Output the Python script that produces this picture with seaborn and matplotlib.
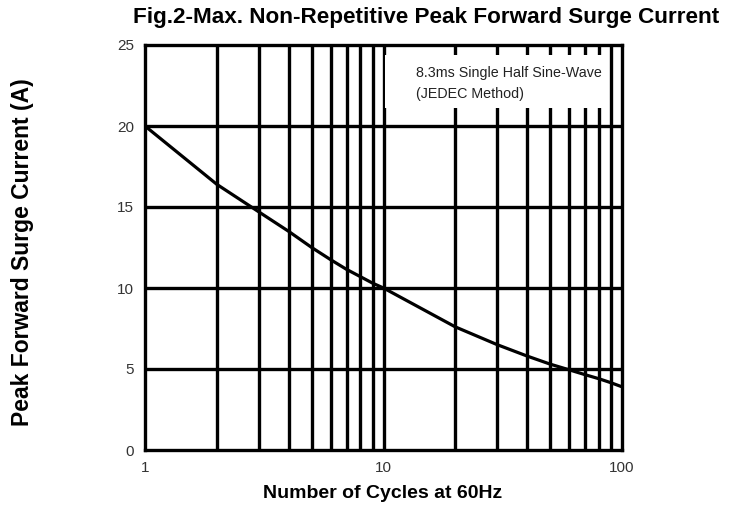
import matplotlib
matplotlib.use("Agg")
import matplotlib.pyplot as plt
import seaborn as sns
import pandas as pd
from matplotlib.patches import Rectangle

cycles = [1, 2, 3, 4, 5, 6, 7, 8, 9, 10, 20, 30, 40, 50, 60, 70, 80, 90, 100]
current = [20, 16.4, 14.7, 13.5, 12.5, 11.75, 11.15, 10.7, 10.3, 10.0, 7.6, 6.5, 5.8, 5.3, 4.95, 4.65, 4.4, 4.15, 3.9]
x_ticks = [1, 10, 100]
x_ticklabels = ["1", "10", "100"]
y_ticks = [0, 5, 10, 15, 20, 25]
note_lines = ["8.3ms Single Half Sine-Wave", "(JEDEC Method)"]

sns.set_theme(style="white")
plt.rcParams['font.family'] = ['Liberation Sans', 'DejaVu Sans']

df = pd.DataFrame({"cycles": cycles, "current": current})

fig = plt.figure(figsize=(7.30, 5.16), dpi=100)
ax = fig.add_axes([145/730, 1-450/516, (622-145)/730, (450-45)/516])

minor = [2, 3, 4, 5, 6, 7, 8, 9, 20, 30, 40, 50, 60, 70, 80, 90]
for v in minor + [10]:
    ax.axvline(v, color="black", lw=2.4, zorder=1)
for h in [5, 10, 15, 20]:
    ax.axhline(h, color="black", lw=2.4, zorder=1)

ax.add_patch(Rectangle((10.15, 21.1), 86.5-10.15, 24.4-21.1, facecolor="white",
                       edgecolor="none", zorder=2))
ax.text(13.7, 23.3, note_lines[0], fontsize=10.3, color="#222222", va="center", zorder=3)
ax.text(13.7, 22.0, note_lines[1], fontsize=10.3, color="#222222", va="center", zorder=3)

sns.lineplot(data=df, x="cycles", y="current", ax=ax, color="black", lw=2.3, zorder=4)

ax.set_xscale("log")
ax.set_xlim(1, 100)
ax.set_ylim(0, 25)
ax.set_xticks(x_ticks)
ax.set_xticklabels(x_ticklabels)
ax.minorticks_off()
ax.set_yticks(y_ticks)
for lab in ax.get_xticklabels() + ax.get_yticklabels():
    lab.set_fontsize(11)
    lab.set_color("#333333")
ax.tick_params(axis="both", length=0, pad=8)
for s in ax.spines.values():
    s.set_color("black")
    s.set_linewidth(2.4)
ax.set_xlabel("")
ax.set_ylabel("")

fig.text(426/730, 1-18/516, "Fig.2-Max. Non-Repetitive Peak Forward Surge Current",
         ha="center", va="center", fontsize=16.2, fontweight="bold", color="black")
fig.text(383/730, 1-493/516, "Number of Cycles at 60Hz", ha="center", va="center",
         fontsize=14, fontweight="bold", color="black")
fig.text(23/730, 1-252/516, "Peak Forward Surge Current (A)", ha="center", va="center",
         rotation=90, fontsize=16.5, fontweight="bold", color="black")

fig.savefig("out.png", dpi=100)
